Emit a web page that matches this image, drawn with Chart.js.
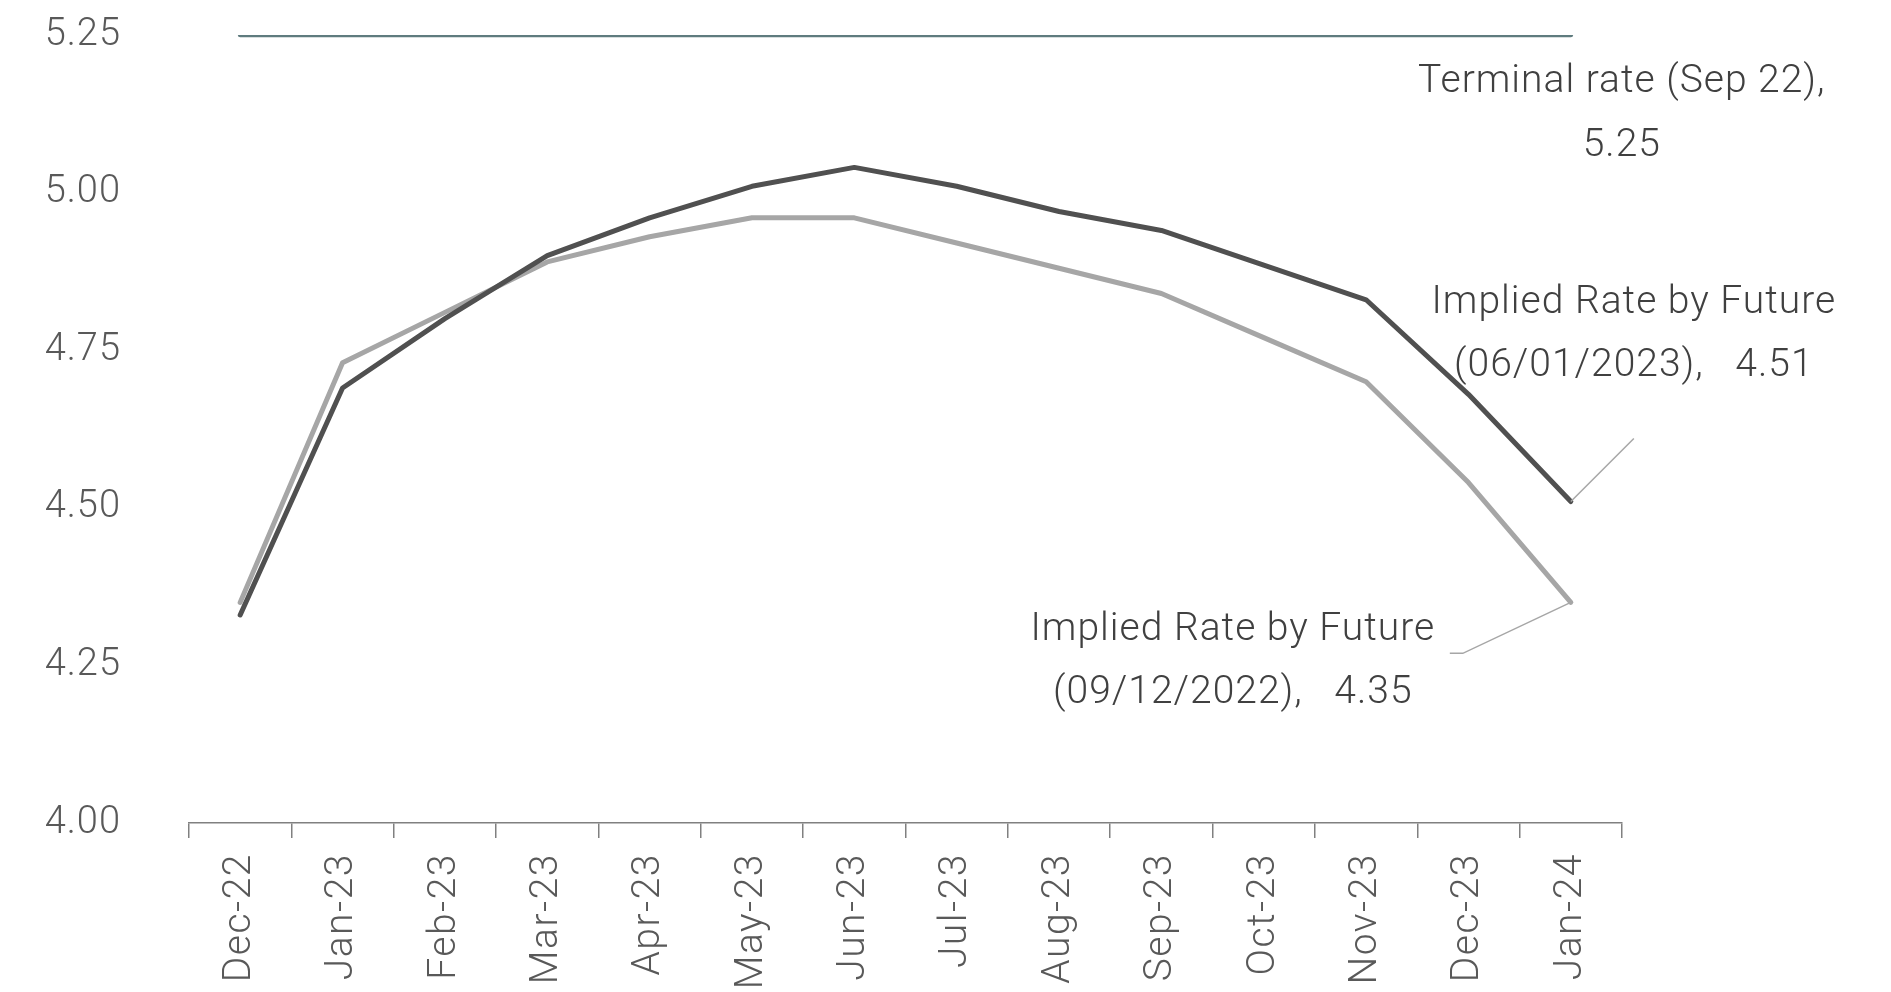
<!DOCTYPE html>
<html>
<head>
<meta charset="utf-8">
<script src="https://cdn.jsdelivr.net/npm/chart.js@4.4.1/dist/chart.umd.min.js"></script>
<style>
  html, body { margin: 0; padding: 0; background: #ffffff; }
  #wrap { width: 1891px; height: 992px; }
</style>
</head>
<body>
<div id="wrap"><canvas id="chart" width="1891" height="992"></canvas></div>
<script>
// Months on the horizontal axis
const months = ['Dec-22', 'Jan-23', 'Feb-23', 'Mar-23', 'Apr-23', 'May-23', 'Jun-23',
                'Jul-23', 'Aug-23', 'Sep-23', 'Oct-23', 'Nov-23', 'Dec-23', 'Jan-24'];

// Policy rate implied by futures, curve of 06/01/2023
const impliedJan2023 = [4.33, 4.69, 4.80, 4.90, 4.96, 5.01, 5.04, 5.01, 4.97, 4.94, 4.885, 4.83, 4.68, 4.51];

// Policy rate implied by futures, curve of 09/12/2022
const impliedDec2022 = [4.35, 4.73, 4.81, 4.89, 4.93, 4.96, 4.96, 4.92, 4.88, 4.84, 4.77, 4.70, 4.54, 4.35];

// Terminal rate priced in September 2022
const terminalSep22 = [5.25, 5.25, 5.25, 5.25, 5.25, 5.25, 5.25, 5.25, 5.25, 5.25, 5.25, 5.25, 5.25, 5.25];

// Value axis ticks
const yTicks = [4.00, 4.25, 4.50, 4.75, 5.00, 5.25];

const FONT = "Roboto, 'Liberation Sans', Arial, sans-serif";

// Draw a scale's labels with some extra tracking
function trackLabels(scale, spacing) {
  if (scale._tracked) return;
  const draw = scale.drawLabels.bind(scale);
  scale.drawLabels = function (area) {
    const c = this.ctx;
    const prev = c.letterSpacing;
    c.letterSpacing = spacing;
    draw(area);
    c.letterSpacing = prev;
  };
  scale._tracked = true;
}

// Callout labels attached to the last point of each curve
const calloutPlugin = {
  id: 'callouts',
  afterDatasetsDraw(chart) {
    const ctx = chart.ctx;
    const last = months.length - 1;
    const pTerm = chart.getDatasetMeta(0).data[last];
    const pJan = chart.getDatasetMeta(1).data[last];
    const pDec = chart.getDatasetMeta(2).data[last];

    ctx.save();
    // leader lines
    ctx.strokeStyle = '#a6a6a6';
    ctx.lineWidth = 1.5;
    ctx.beginPath();
    ctx.moveTo(pJan.x, pJan.y);
    ctx.lineTo(pJan.x + 63, pJan.y - 63);
    ctx.stroke();
    ctx.beginPath();
    ctx.moveTo(pDec.x, pDec.y);
    ctx.lineTo(pDec.x - 108, pDec.y + 51);
    ctx.lineTo(pDec.x - 121, pDec.y + 51);
    ctx.stroke();

    ctx.fillStyle = '#404040';
    ctx.font = '300 39px ' + FONT;
    ctx.letterSpacing = '1px';
    ctx.textAlign = 'center';
    ctx.textBaseline = 'middle';

    ctx.fillText('Terminal rate (Sep 22),', pTerm.x + 51, pTerm.y + 47);
    ctx.fillText(terminalSep22[last].toFixed(2), pTerm.x + 51, pTerm.y + 111);

    ctx.fillText('Implied Rate by Future', pJan.x + 63, pJan.y - 198);
    ctx.fillText('(06/01/2023),   ' + impliedJan2023[last].toFixed(2), pJan.x + 63, pJan.y - 135);

    ctx.fillText('Implied Rate by Future', pDec.x - 338, pDec.y + 28);
    ctx.fillText('(09/12/2022),   ' + impliedDec2022[last].toFixed(2), pDec.x - 338, pDec.y + 91);
    ctx.restore();
  }
};

new Chart(document.getElementById('chart'), {
  type: 'line',
  data: {
    labels: months,
    datasets: [
      {
        label: 'Terminal rate (Sep 22)',
        data: terminalSep22,
        borderColor: '#5f7b7e',
        borderWidth: 4.7,
        pointRadius: 0,
        tension: 0,
        borderCapStyle: 'round'
      },
      {
        label: 'Implied Rate by Future (06/01/2023)',
        data: impliedJan2023,
        borderColor: '#505050',
        borderWidth: 5,
        pointRadius: 0,
        tension: 0,
        borderCapStyle: 'round',
        borderJoinStyle: 'round'
      },
      {
        label: 'Implied Rate by Future (09/12/2022)',
        data: impliedDec2022,
        borderColor: '#a6a6a6',
        borderWidth: 5,
        pointRadius: 0,
        tension: 0,
        borderCapStyle: 'round',
        borderJoinStyle: 'round'
      }
    ]
  },
  options: {
    responsive: false,
    animation: false,
    devicePixelRatio: 1,
    layout: { padding: { left: 45, right: 269, top: 35, bottom: 0 } },
    plugins: {
      legend: { display: false },
      tooltip: { enabled: false }
    },
    scales: {
      x: {
        type: 'category',
        offset: true,
        afterFit(scale) {
          scale.height = 169;
          scale.paddingLeft = 0;
          scale.paddingRight = 0;
          trackLabels(scale, '1.5px');
        },
        grid: {
          offset: true,
          drawOnChartArea: false,
          drawTicks: true,
          tickLength: 15,
          color: '#808080',
          lineWidth: 1.5
        },
        border: { display: true, color: '#808080', width: 1.5 },
        ticks: {
          autoSkip: false,
          minRotation: 90,
          maxRotation: 90,
          padding: 15,
          color: '#595959',
          font: { family: FONT, size: 39, weight: '300' }
        }
      },
      y: {
        min: 4.0,
        max: 5.25,
        afterFit(scale) {
          scale.width = 144;
          scale.paddingTop = 0;
          scale.paddingBottom = 0;
          trackLabels(scale, '1px');
        },
        afterBuildTicks(scale) { scale.ticks = yTicks.map(v => ({ value: v })); },
        grid: { display: false, drawTicks: false },
        border: { display: false },
        ticks: {
          padding: 68,
          color: '#595959',
          font: { family: FONT, size: 38, weight: '300' },
          callback: (v) => Number(v).toFixed(2)
        }
      }
    }
  },
  plugins: [calloutPlugin]
});
</script>
</body>
</html>
